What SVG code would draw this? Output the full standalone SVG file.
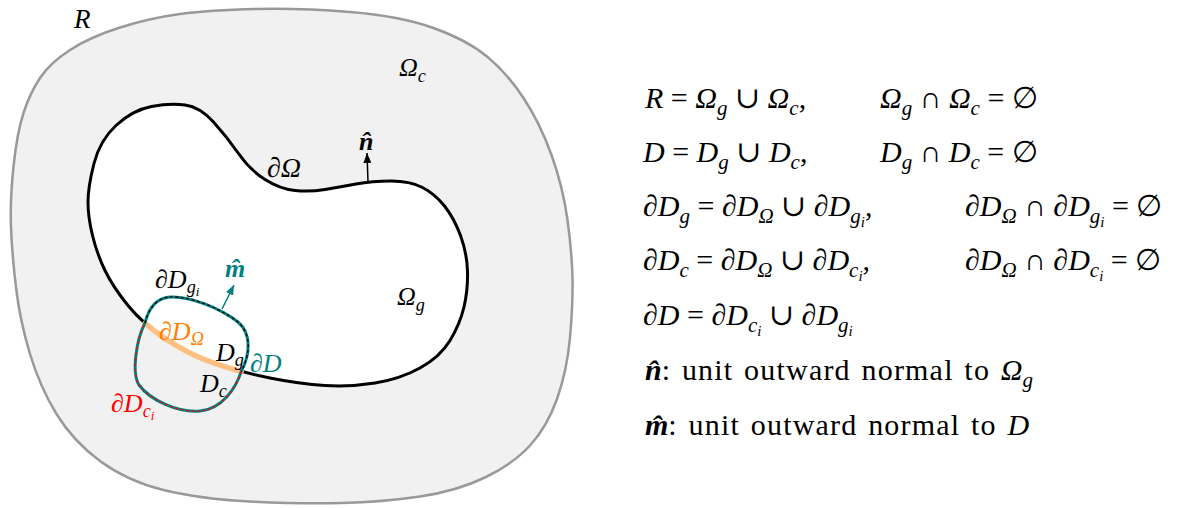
<svg xmlns="http://www.w3.org/2000/svg" width="1189" height="508" viewBox="0 0 1189 508">
<defs>
<style>
.eq{font-family:"Liberation Serif","DejaVu Serif",serif;font-size:30px;fill:#000}
.lb{font-family:"Liberation Serif","DejaVu Serif",serif;font-size:26px;fill:#000}
.it{font-style:italic}
.bf{font-style:italic;font-weight:bold}
.sb{font-size:70%}
.ssb{font-size:50%}
.rm{letter-spacing:1.2px;word-spacing:2px}
.teal{fill:#008080}
.orange{fill:#ff8000}
.red{fill:#ff0000}
</style>
<marker id="ahk" viewBox="0 0 10 8" refX="10" refY="4" markerWidth="10" markerHeight="8" markerUnits="userSpaceOnUse" orient="auto"><path d="M0,0 L10,4 L0,8 Z" fill="#000"/></marker>
<marker id="aht" viewBox="0 0 10 8" refX="10" refY="4" markerWidth="10" markerHeight="8" markerUnits="userSpaceOnUse" orient="auto"><path d="M0,0 L10,4 L0,8 Z" fill="#008080"/></marker>
</defs>
<rect width="1189" height="508" fill="#fff"/>
<g id="region-R">
<path d="M 350,12 Q 400,16 433.5,28 Q 467,40 487,56.5 Q 507,73 523.5,98 Q 540,123 551.5,155 Q 563,187 567.5,220 Q 572,253 572.5,278.5 Q 573,304 570,337.5 Q 567,371 557,399 Q 547,427 530,445.5 Q 513,464 485,477.5 Q 457,491 420,496.5 Q 383,502 341.5,503 Q 300,504 250,501.5 Q 200,499 163.5,490 Q 127,481 100,461 Q 73,441 56.5,414 Q 40,387 30,354 Q 20,321 16,287.5 Q 12,254 11,227 Q 10,200 13.5,166.5 Q 17,133 23.5,113 Q 30,93 40,78 Q 50,63 70,50 Q 90,37 120,27.5 Q 150,18 180,14 Q 210,10 255,9 Q 300,8 350,12 Z" fill="#f1f1f1" stroke="#999" stroke-width="2.5"/>
<text class="lb it" x="74" y="28" style="font-size:27px">R</text>
<text class="lb" x="399" y="76"><tspan class="it">Ω</tspan><tspan class="it sb" dy="6">c</tspan></text>
</g>
<g id="omega-g">
<path d="M 185,105 Q 200,107 213.5,122 Q 227,137 238.5,153.5 Q 250,170 265,179.5 Q 280,189 295,190.5 Q 310,192 325,189.5 Q 340,187 356,184 Q 372,181 391,181 Q 410,181 422.5,187.5 Q 435,194 444.5,206 Q 454,218 460.5,235.5 Q 467,253 467.5,271.5 Q 468,290 464,307 Q 460,324 450,340.5 Q 440,357 420,368 Q 400,379 375,383 Q 350,387 325,385.5 Q 300,384 270,378 Q 240,372 215,363.5 Q 190,355 166.5,339.5 Q 143,324 128,305.5 Q 113,287 105,270.5 Q 97,254 92.5,235.5 Q 88,217 88,202 Q 88,187 94,163.5 Q 100,140 116.5,125 Q 133,110 151.5,106.5 Q 170,103 185,105 Z" fill="#fff" stroke="#000" stroke-width="3"/>
<text class="lb it" x="267" y="177" style="font-size:28px">∂Ω</text>
<text class="lb" x="397" y="305"><tspan class="it">Ω</tspan><tspan class="it sb" dy="6">g</tspan></text>
</g>
<g id="D">
<path d="M 145.1,323.25 Q 154.75,331.75 166.5,339.5 Q 190,355 215,363.5 Q 227.5,367.75 241.25,371.4" fill="none" stroke="#ffbf80" stroke-width="5.5" stroke-linecap="round"/>
<path d="M 145,323 C 148,311 155,298 170,297 C 190,296 220,308 238,322 C 252,334 250,355 241.25,371.4 C 236,388 222,409 200,411 C 178,413 150,400 139,385 C 131,372 137,338 145,323 Z" fill="none" stroke="#008080" stroke-width="3"/>
<path d="M 145,323 C 148,311 155,298 170,297 C 190,296 220,308 238,322 C 252,334 250,355 241.25,371.4" fill="none" stroke="#000" stroke-width="1.3" stroke-dasharray="3 2.5"/>
<path d="M 241.25,371.4 C 236,388 222,409 200,411 C 178,413 150,400 139,385 C 131,372 137,338 145,323" fill="none" stroke="#ff0000" stroke-width="1.3" stroke-dasharray="3 2.5"/>
<text class="lb" x="155" y="288"><tspan class="it">∂D</tspan><tspan class="it sb" dy="5">g</tspan><tspan class="it ssb" dy="3">i</tspan></text>
<text class="lb orange" x="159" y="340"><tspan class="it">∂D</tspan><tspan class="it sb" dy="5">Ω</tspan></text>
<text class="lb" x="216" y="361"><tspan class="it">D</tspan><tspan class="it sb" dy="5">g</tspan></text>
<text class="lb teal" x="250" y="372"><tspan class="it">∂D</tspan></text>
<text class="lb" x="200" y="392"><tspan class="it">D</tspan><tspan class="it sb" dy="5">c</tspan></text>
<text class="lb red" x="111" y="412"><tspan class="it">∂D</tspan><tspan class="it sb" dy="5">c</tspan><tspan class="it ssb" dy="3">i</tspan></text>
</g>
<g id="connectors">
<line x1="368" y1="182" x2="367" y2="153" stroke="#000" stroke-width="1.5" marker-end="url(#ahk)"/>
<line x1="222" y1="309" x2="234" y2="285" stroke="#008080" stroke-width="1.5" marker-end="url(#aht)"/>
</g>
<g id="normal-labels">
<text class="lb bf" x="359" y="150">n̂</text>
<text class="lb bf teal" x="225" y="277">m̂</text>
</g>
<g id="equations">
<text class="eq" x="645" y="108"><tspan class="it">R</tspan> = <tspan class="it">Ω</tspan><tspan class="it sb" dy="7">g</tspan><tspan dy="-7"> ∪ </tspan><tspan class="it">Ω</tspan><tspan class="it sb" dy="7">c</tspan><tspan dy="-7">,</tspan><tspan x="880" class="it">Ω</tspan><tspan class="it sb" dy="7">g</tspan><tspan dy="-7"> ∩ </tspan><tspan class="it">Ω</tspan><tspan class="it sb" dy="7">c</tspan><tspan dy="-7"> = ∅</tspan></text>
<text class="eq" x="643" y="162"><tspan class="it">D</tspan> = <tspan class="it">D</tspan><tspan class="it sb" dy="7">g</tspan><tspan dy="-7"> ∪ </tspan><tspan class="it">D</tspan><tspan class="it sb" dy="7">c</tspan><tspan dy="-7">,</tspan><tspan x="880" class="it">D</tspan><tspan class="it sb" dy="7">g</tspan><tspan dy="-7"> ∩ </tspan><tspan class="it">D</tspan><tspan class="it sb" dy="7">c</tspan><tspan dy="-7"> = ∅</tspan></text>
<text class="eq" x="643" y="216"><tspan class="it">∂D</tspan><tspan class="it sb" dy="7">g</tspan><tspan dy="-7"> = </tspan><tspan class="it">∂D</tspan><tspan class="it sb" dy="7">Ω</tspan><tspan dy="-7"> ∪ </tspan><tspan class="it">∂D</tspan><tspan class="it sb" dy="7">g</tspan><tspan class="it ssb" dy="4">i</tspan><tspan dy="-11">,</tspan><tspan x="965" class="it">∂D</tspan><tspan class="it sb" dy="7">Ω</tspan><tspan dy="-7"> ∩ </tspan><tspan class="it">∂D</tspan><tspan class="it sb" dy="7">g</tspan><tspan class="it ssb" dy="4">i</tspan><tspan dy="-11"> = ∅</tspan></text>
<text class="eq" x="643" y="270"><tspan class="it">∂D</tspan><tspan class="it sb" dy="7">c</tspan><tspan dy="-7"> = </tspan><tspan class="it">∂D</tspan><tspan class="it sb" dy="7">Ω</tspan><tspan dy="-7"> ∪ </tspan><tspan class="it">∂D</tspan><tspan class="it sb" dy="7">c</tspan><tspan class="it ssb" dy="4">i</tspan><tspan dy="-11">,</tspan><tspan x="965" class="it">∂D</tspan><tspan class="it sb" dy="7">Ω</tspan><tspan dy="-7"> ∩ </tspan><tspan class="it">∂D</tspan><tspan class="it sb" dy="7">c</tspan><tspan class="it ssb" dy="4">i</tspan><tspan dy="-11"> = ∅</tspan></text>
<text class="eq" x="643" y="325"><tspan class="it">∂D</tspan> = <tspan class="it">∂D</tspan><tspan class="it sb" dy="7">c</tspan><tspan class="it ssb" dy="4">i</tspan><tspan dy="-11"> ∪ </tspan><tspan class="it">∂D</tspan><tspan class="it sb" dy="7">g</tspan><tspan class="it ssb" dy="4">i</tspan></text>
<text class="eq" x="645" y="380"><tspan class="bf">n̂</tspan><tspan class="rm">: unit outward normal to </tspan><tspan class="it">Ω</tspan><tspan class="it sb" dy="7">g</tspan></text>
<text class="eq" x="645" y="435"><tspan class="bf">m̂</tspan><tspan class="rm">: unit outward normal to </tspan><tspan class="it">D</tspan></text>
</g>
</svg>
